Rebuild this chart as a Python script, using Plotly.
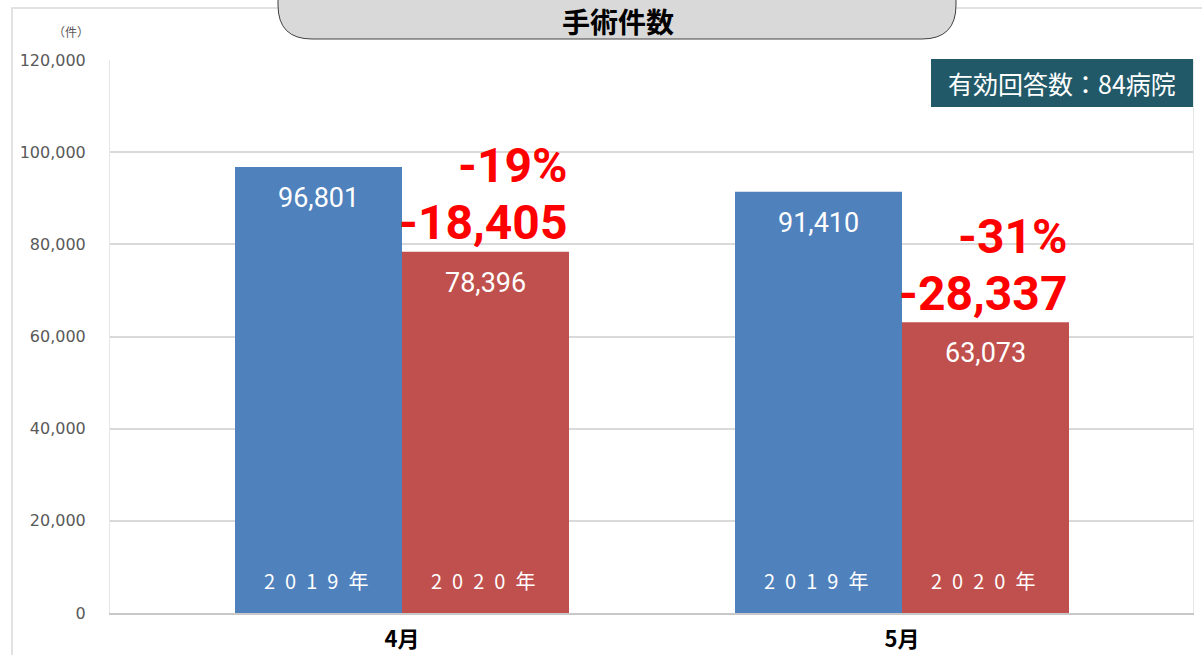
import plotly.graph_objects as go

months = ["4月", "5月"]
years = ["2019年", "2020年"]
v2019 = [96801, 91410]
v2020 = [78396, 63073]
y_ticks = [0, 20000, 40000, 60000, 80000, 100000, 120000]
title_text = "手術件数"
note_text = "有効回答数：84病院"
unit_text = "（件）"

W, H = 1202, 655
L, R, T, B = 110, 1193, 60, 613

def px(x):
    return (x - L) / (R - L)

def py(y):
    return (B - y) / (B - T)

BLUE = "#4f81bd"
RED = "#c0504d"
JP = "Noto Sans CJK JP"
RED_FONT = dict(family="Roboto", size=48, color="#ff0000")

fig = go.Figure()
fig.add_trace(go.Bar(x=months, y=v2019, name=years[0], marker_color=BLUE, marker_line_width=0))
fig.add_trace(go.Bar(x=months, y=v2020, name=years[1], marker_color=RED, marker_line_width=0))

ann = []
half = 83.5
for i, m in enumerate(months):
    a, b = v2019[i], v2020[i]
    ann.append(dict(x=m, y=a, xref="x", yref="y", xshift=-half, yshift=-31, text=f"{a:,}",
                    xanchor="center", yanchor="middle",
                    showarrow=False, font=dict(family="Roboto", size=27, color="white")))
    ann.append(dict(x=m, y=b, xref="x", yref="y", xshift=half, yshift=-31, text=f"{b:,}",
                    xanchor="center", yanchor="middle",
                    showarrow=False, font=dict(family="Roboto", size=27, color="white")))
    for k, (yr, sh) in enumerate(zip(years, [-half, half])):
        spaced = "\u2002".join(list(yr))
        ann.append(dict(x=m, y=0, xref="x", yref="y", xshift=sh - 3, yshift=33, text=spaced,
                        xanchor="center", yanchor="middle",
                        showarrow=False, font=dict(family=JP, size=20, color="white")))
    diff = b - a
    pct = round(diff / a * 100)
    ann.append(dict(x=m, y=b, xref="x", yref="y", xshift=2 * half, yshift=29, xanchor="right",
                    yanchor="middle", text=f"<b>-{abs(diff):,}</b>", showarrow=False, font=RED_FONT))
    ann.append(dict(x=m, y=b, xref="x", yref="y", xshift=2 * half, yshift=86, xanchor="right",
                    yanchor="middle", text=f"<b>-{abs(pct)}%</b>", showarrow=False, font=RED_FONT))

# title text
ann.append(dict(x=px(618), y=py(21), xref="paper", yref="paper", text=f"<b>{title_text}</b>",
                xanchor="center", yanchor="middle",
                showarrow=False, font=dict(family=JP, size=28, color="#000000")))
# note text
ann.append(dict(x=px(1062), y=py(83), xref="paper", yref="paper", text=note_text,
                xanchor="center", yanchor="middle",
                showarrow=False, font=dict(family=JP, size=25, color="white")))
# unit
ann.append(dict(x=px(71), y=py(32), xref="paper", yref="paper", text=unit_text,
                xanchor="center", yanchor="middle",
                showarrow=False, font=dict(family=JP, size=12, color="#595959")))

# rounded title box path
x0, x1, yb, yt, r = 278, 956, 39, -30, 34
path = (f"M {px(x0)},{py(yt)} L {px(x0)},{py(yb - r)} Q {px(x0)},{py(yb)} {px(x0 + r)},{py(yb)} "
        f"L {px(x1 - r)},{py(yb)} Q {px(x1)},{py(yb)} {px(x1)},{py(yb - r)} L {px(x1)},{py(yt)} Z")

shapes = [
    dict(type="rect", xref="paper", yref="paper", x0=px(12), x1=px(1215), y0=py(8), y1=py(680),
         line=dict(color="#d9d9d9", width=1.5), fillcolor="rgba(0,0,0,0)", layer="below"),
    dict(type="path", xref="paper", yref="paper", path=path, fillcolor="#d9d9d9",
         line=dict(color="#404040", width=1)),
    dict(type="rect", xref="paper", yref="paper", x0=px(931), x1=px(1193), y0=py(107), y1=py(59),
         fillcolor="#215968", line=dict(width=0)),
]

fig.update_layout(
    width=W, height=H,
    margin=dict(l=L, r=W - R, t=T, b=H - B, autoexpand=False),
    paper_bgcolor="white", plot_bgcolor="white",
    barmode="group", bargap=0.332, bargroupgap=0,
    showlegend=False,
    annotations=ann, shapes=shapes,
    xaxis=dict(type="category", range=[-0.584, 1.582], showgrid=False, automargin=False,
               showline=True, linecolor="#c8c8c8", linewidth=2,
               tickvals=months, ticktext=[f"<b>{m}</b>" for m in months],
               tickfont=dict(family=JP, size=22, color="#000000"), ticks="",
               ticklabelstandoff=6),
    yaxis=dict(range=[0, 120000], tickvals=y_ticks, ticktext=[f"{v:,}" for v in y_ticks],
               showgrid=True, gridcolor="#d9d9d9", gridwidth=2, automargin=False,
               showline=True, linecolor="#e6e6e6", linewidth=1, mirror=True,
               zeroline=False, ticklabelstandoff=20,
               tickfont=dict(family="DejaVu Sans", size=16, color="#595959")),
)

fig.write_html("out.html", config={"displayModeBar": False},
               post_script="document.body.style.margin='0';")
